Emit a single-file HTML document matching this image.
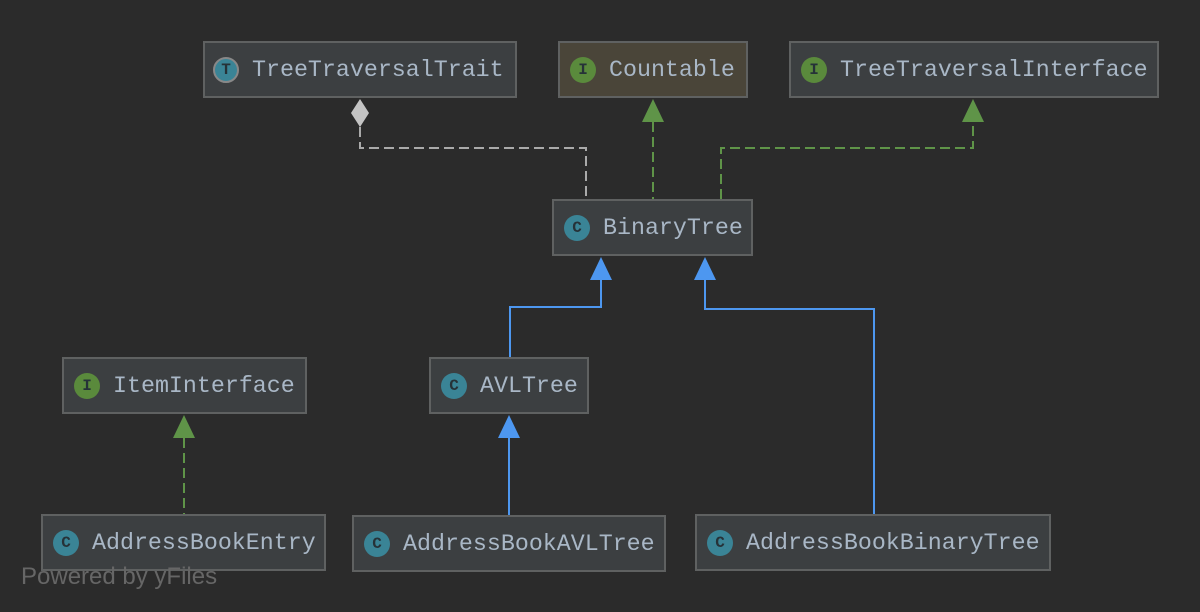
<!DOCTYPE html><html><head><style>
body{margin:0;width:1200px;height:612px;background:#2b2b2b;position:relative;overflow:hidden;font-family:"Liberation Mono",monospace}
.b{position:absolute;box-sizing:border-box;border:2px solid #5f6161;background:#3c3f41;color:#a9b7c6;font-size:23.3px;display:flex;align-items:center;padding-left:10px;white-space:nowrap}
.i{width:26px;height:26px;border-radius:50%;margin-right:13px;display:inline-flex;align-items:center;justify-content:center;font-size:16px;color:#263238;flex:none;font-weight:bold}
.g{background:#5a8a3c}.c{background:#3a8496}
</style></head><body>
<svg width="1200" height="612" style="position:absolute;left:0;top:0">
<g fill="none" stroke-width="2">
<path d="M360 127V148H586V199" stroke="#aaa" stroke-dasharray="10,5"/>
<path d="M653 122V199" stroke="#5f9448" stroke-dasharray="10,5"/>
<path d="M721 199V148H973V122" stroke="#5f9448" stroke-dasharray="10,5"/>
<path d="M184 438V514" stroke="#5f9448" stroke-dasharray="10,5"/>
<path d="M601 280V307H510V357" stroke="#4d97f0"/>
<path d="M705 280V309H874V514" stroke="#4d97f0"/>
<path d="M509 438V515" stroke="#4d97f0"/>
</g>
<path d="M360 99L369 113L360 127L351 113Z" fill="#c4c4c4"/>
<path d="M653 99L664 122H642Z" fill="#5f9448"/>
<path d="M973 99L984 122H962Z" fill="#5f9448"/>
<path d="M184 415L195 438H173Z" fill="#5f9448"/>
<path d="M601 257L612 280H590Z" fill="#4d97f0"/>
<path d="M705 257L716 280H694Z" fill="#4d97f0"/>
<path d="M509 415L520 438H498Z" fill="#4d97f0"/>
</svg>
<div class="b" style="left:203px;top:41px;width:314px;height:57px;padding-left:8px"><span class="i c" style="border:2px solid #888;box-sizing:border-box">T</span>TreeTraversalTrait</div>
<div class="b" style="left:558px;top:41px;width:190px;height:57px;background:#4a4539"><span class="i g">I</span>Countable</div>
<div class="b" style="left:789px;top:41px;width:370px;height:57px"><span class="i g">I</span>TreeTraversalInterface</div>
<div class="b" style="left:552px;top:199px;width:201px;height:57px"><span class="i c">C</span>BinaryTree</div>
<div class="b" style="left:62px;top:357px;width:245px;height:57px"><span class="i g">I</span>ItemInterface</div>
<div class="b" style="left:429px;top:357px;width:160px;height:57px"><span class="i c">C</span>AVLTree</div>
<div class="b" style="left:41px;top:514px;width:285px;height:57px"><span class="i c">C</span>AddressBookEntry</div>
<div class="b" style="left:352px;top:515px;width:314px;height:57px"><span class="i c">C</span>AddressBookAVLTree</div>
<div class="b" style="left:695px;top:514px;width:356px;height:57px"><span class="i c">C</span>AddressBookBinaryTree</div>
<div style="position:absolute;left:21px;top:563px;font-family:'Liberation Sans',sans-serif;font-size:24px;color:#666">Powered by yFiles</div>
</body></html>
